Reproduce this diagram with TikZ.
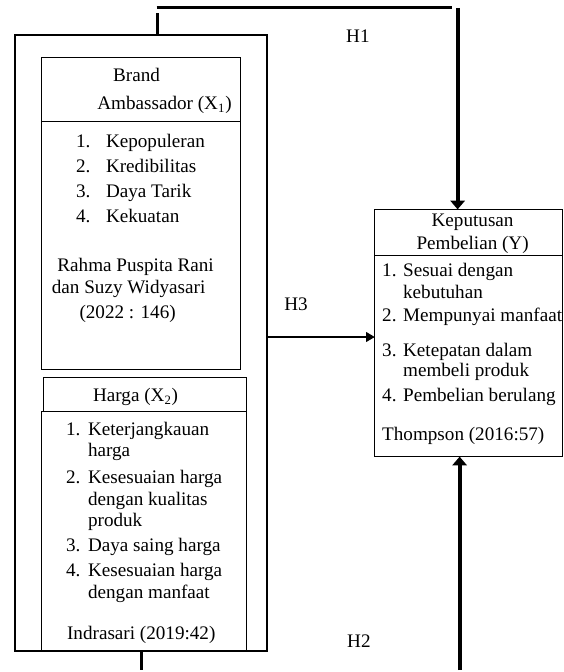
\documentclass[tikz,border=0pt]{standalone}
\usepackage{fontspec}
\setmainfont{Liberation Serif}
\usetikzlibrary{arrows.meta}

\begin{document}
\begin{tikzpicture}[x=0.625pt,y=-0.625pt,
  txt/.style={inner sep=0pt,text height=8.5pt,text depth=2.5pt,font=\fontsize{12}{14}\selectfont},
  lft/.style={txt,anchor=west},
  thinbox/.style={line width=0.6pt},
  frame/.style={line width=1.3pt},
  thickline/.style={line width=2.5pt},
  bigtip/.style={-{Triangle[width=9pt,length=5.5pt]}},
  smalltip/.style={-{Triangle[width=6pt,length=5.5pt]}}]
\path (0,0) rectangle (565,672);
\draw[thinbox] (42,58) rectangle (241,371);
\draw[thinbox] (42,122) -- (241,122);
\draw[thinbox] (44,379) rectangle (247,413);
\draw[thinbox] (42,413) rectangle (247,653);
\draw[thinbox] (376,210) rectangle (564,458);
\draw[thinbox] (376,256) -- (564,256);
\draw[frame] (15,35) rectangle (268,653);
\node[txt] (bhead1) at (137,77) {Brand};
\node[txt] (bhead2) at (165,105) {Ambassador (X\textsubscript{1})};
\node[lft] (b1n) at (76,143) {1.};
\node[lft] (b1t) at (106,143) {Kepopuleran};
\node[lft] (b2n) at (76,168) {2.};
\node[lft] (b2t) at (106,168) {Kredibilitas};
\node[lft] (b3n) at (76,193) {3.};
\node[lft] (b3t) at (106,193) {Daya Tarik};
\node[lft] (b4n) at (76,218) {4.};
\node[lft] (b4t) at (106,218) {Kekuatan};
\node[txt] (bsrc1) at (136,267) {Rahma Puspita Rani};
\node[txt] (bsrc2) at (129,290) {dan Suzy Widyasari};
\node[txt] (bsrc3) at (128,315) {(2022 : 146)};
\node[txt] (hhead) at (136,398) {Harga (X\textsubscript{2})};
\node[lft] (h1n) at (66,432) {1.};
\node[lft] (h1t) at (88,432) {Keterjangkauan};
\node[lft] (h1u) at (88,453) {harga};
\node[lft] (h2n) at (66,480) {2.};
\node[lft] (h2t) at (88,480) {Kesesuaian harga};
\node[lft] (h2u) at (88,502) {dengan kualitas};
\node[lft] (h2v) at (88,523) {produk};
\node[lft] (h3n) at (66,548) {3.};
\node[lft] (h3t) at (88,548) {Daya saing harga};
\node[lft] (h4n) at (66,573) {4.};
\node[lft] (h4t) at (88,573) {Kesesuaian harga};
\node[lft] (h4u) at (88,595) {dengan manfaat};
\node[lft] (hsrc) at (67,637) {Indrasari (2019:42)};
\node[txt] (yhead1) at (474,222) {Keputusan};
\node[txt] (yhead2) at (474,245) {Pembelian (Y)};
\node[lft] (y1n) at (383,273) {1.};
\node[lft] (y1t) at (404,273) {Sesuai dengan};
\node[lft] (y1u) at (404,295) {kebutuhan};
\node[lft] (y2n) at (383,318) {2.};
\node[lft] (y2t) at (404,318) {Mempunyai manfaat};
\node[lft] (y3n) at (383,353) {3.};
\node[lft] (y3t) at (404,353) {Ketepatan dalam};
\node[lft] (y3u) at (404,373) {membeli produk};
\node[lft] (y4n) at (383,398) {4.};
\node[lft] (y4t) at (404,398) {Pembelian berulang};
\node[lft] (ysrc) at (383,437) {Thompson (2016:57)};
\node[txt] (lh1) at (359,38) {H1};
\node[txt] (lh3) at (297,307) {H3};
\node[txt] (lh2) at (360,645) {H2};
\coordinate (ftop) at (158,35);
\coordinate (fstub) at (158,13);
\coordinate (h1l) at (157,7.5);
\coordinate (h1r) at (453,7.5);
\coordinate (h1d) at (459,8);
\coordinate (ytop) at (459,210);
\coordinate (fright) at (268,338);
\coordinate (yleft) at (376,338);
\coordinate (fbot) at (142,653);
\coordinate (fend) at (142,672);
\coordinate (yend) at (461,672);
\coordinate (ybot) at (461,458);
\draw[line width=1.8pt] (ftop) -- (fstub);
\draw[frame] (h1l) -- (h1r);
\draw[thickline,bigtip] (h1d) -- (ytop);
\draw[line width=1.2pt,smalltip] (fright) -- (yleft);
\draw[line width=1.8pt] (fbot) -- (fend);
\draw[thickline,bigtip] (yend) -- (ybot);
\end{tikzpicture}
\end{document}
